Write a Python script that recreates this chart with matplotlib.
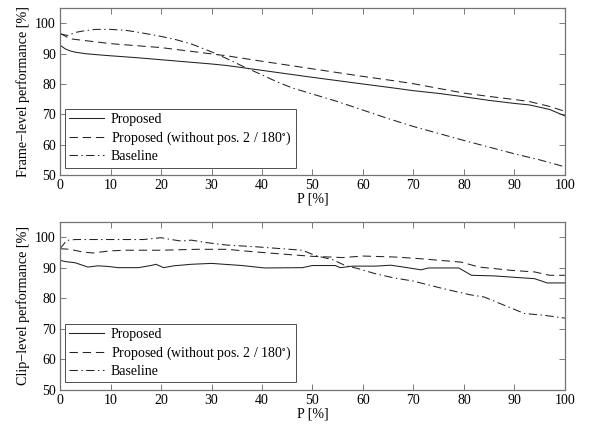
import matplotlib
matplotlib.use("Agg")
import matplotlib.pyplot as plt

plt.rcParams['font.family'] = ['Liberation Serif', 'DejaVu Serif']
plt.rcParams['mathtext.fontset'] = 'stix'
plt.rcParams['lines.scale_dashes'] = False

# ---- Frame-level data ----
frame_prop_p = [0, 1, 2, 3, 5, 7, 10, 15, 20, 25, 30, 33, 40, 50, 60, 66, 70, 75, 80, 85, 90, 93, 97, 100]
frame_prop_v = [92.8, 91.6, 90.9, 90.5, 90.0, 89.7, 89.3, 88.7, 88.0, 87.3, 86.6, 86.1, 84.5, 82.2, 80.0, 78.7, 77.8, 76.9, 75.8, 74.6, 73.6, 73.1, 71.6, 69.5]

frame_nopos_p = [0, 2, 4, 10, 20, 33, 40, 50, 60, 66, 70, 80, 85, 90, 93, 97, 100]
frame_nopos_v = [96.7, 94.9, 94.5, 93.3, 92.0, 89.3, 87.5, 85.0, 82.5, 81.1, 80.1, 77.0, 75.9, 74.9, 74.2, 72.6, 71.0]

frame_base_p = [0, 1.5, 3, 5, 7, 10, 13, 16, 20, 23, 26, 30, 33, 36, 40, 43, 46, 50, 55, 60, 65, 70, 75, 80, 85, 90, 95, 100]
frame_base_v = [96.5, 96.0, 97.0, 97.6, 98.0, 98.0, 97.7, 96.9, 95.7, 94.6, 93.2, 90.6, 88.4, 86.0, 83.0, 80.7, 78.7, 76.7, 74.2, 71.4, 68.6, 66.0, 63.7, 61.4, 59.2, 57.0, 55.0, 52.7]

# ---- Clip-level data ----
clip_prop_p = [0, 1, 3, 5.5, 7.5, 9.5, 11.5, 15.5, 18, 19, 20.5, 22.5, 26, 30, 32.5, 36, 40.5, 48, 50, 54.5, 55.5, 58, 62.5, 65.5, 68, 71.5, 73, 79, 81.5, 86, 89.5, 94, 96.5, 100]
clip_prop_v = [92.4, 92.0, 91.6, 90.2, 90.6, 90.4, 90.0, 90.0, 90.7, 91.1, 90.0, 90.6, 91.1, 91.4, 91.1, 90.7, 89.9, 90.0, 90.7, 90.7, 90.0, 90.5, 90.5, 90.8, 90.2, 89.3, 89.9, 89.9, 87.5, 87.3, 86.9, 86.4, 85.0, 85.0]

clip_nopos_p = [0, 2, 4.5, 6.5, 10, 13, 20, 27, 33, 39, 46, 50, 56, 60, 66, 70, 73, 79.5, 83, 89.5, 94, 97, 100]
clip_nopos_v = [96.2, 96.0, 95.1, 94.8, 95.5, 95.7, 95.7, 96.0, 96.0, 95.1, 94.2, 93.7, 93.3, 93.8, 93.5, 93.1, 92.7, 91.8, 90.2, 89.1, 88.6, 87.5, 87.5]

clip_base_p = [0, 1.3, 3, 16.5, 20, 22, 24, 26, 29, 33, 39, 48, 50.5, 54, 56.5, 59, 62.5, 66, 70, 76, 81, 84, 88, 92, 96, 100]
clip_base_v = [96.2, 98.9, 99.2, 99.2, 99.8, 99.2, 98.7, 99.0, 98.2, 97.4, 96.8, 95.7, 94.0, 92.6, 90.7, 89.7, 88.0, 86.7, 85.6, 83.1, 81.2, 80.4, 77.7, 75.0, 74.4, 73.5]

labels = ['Proposed', 'Proposed (without pos. 2 / 180$^{\\circ}$)', 'Baseline']
xticks = [0, 10, 20, 30, 40, 50, 60, 70, 80, 90, 100]
yticks = [50, 60, 70, 80, 90, 100]

fig = plt.figure(figsize=(5.89, 4.29), dpi=100)
ax1 = fig.add_axes([0.102, 0.592, 0.857, 0.389])
ax2 = fig.add_axes([0.102, 0.091, 0.857, 0.392])

lc = '#222222'
lw = 0.75

def draw(ax, series, ylabel):
    (p1, v1), (p2, v2), (p3, v3) = series
    ax.plot(p1, v1, color=lc, lw=lw, linestyle='-', label=labels[0])
    ax.plot(p2, v2, color=lc, lw=lw, dashes=(6, 3.5), label=labels[1])
    ax.plot(p3, v3, color=lc, lw=lw, dashes=(6, 2.5, 1, 2.5), label=labels[2])
    ax.set_xlim(0, 100)
    ax.set_ylim(50, 105)
    ax.set_xticks(xticks)
    ax.set_yticks(yticks)
    ax.tick_params(direction='in', top=True, right=True, length=4, width=0.6,
                   color='0.4', labelsize=10, pad=3)
    for s in ax.spines.values():
        s.set_color('0.45')
        s.set_linewidth(0.9)
    ax.set_xlabel('P [%]', fontsize=10, labelpad=0)
    ax.set_ylabel(ylabel, fontsize=10.2, labelpad=4)
    leg = ax.legend(loc='lower left', bbox_to_anchor=(0.01, 0.045), borderaxespad=0,
                    fontsize=10, fancybox=False, framealpha=1, edgecolor='0.3',
                    handlelength=2.5, handletextpad=0.5, borderpad=0.3, labelspacing=0.25)
    leg.get_frame().set_linewidth(0.7)

draw(ax1, [(frame_prop_p, frame_prop_v), (frame_nopos_p, frame_nopos_v), (frame_base_p, frame_base_v)],
     'Frame\u2212level performance [%]')
draw(ax2, [(clip_prop_p, clip_prop_v), (clip_nopos_p, clip_nopos_v), (clip_base_p, clip_base_v)],
     'Clip\u2212level performance [%]')

fig.savefig('out.png', dpi=100)
